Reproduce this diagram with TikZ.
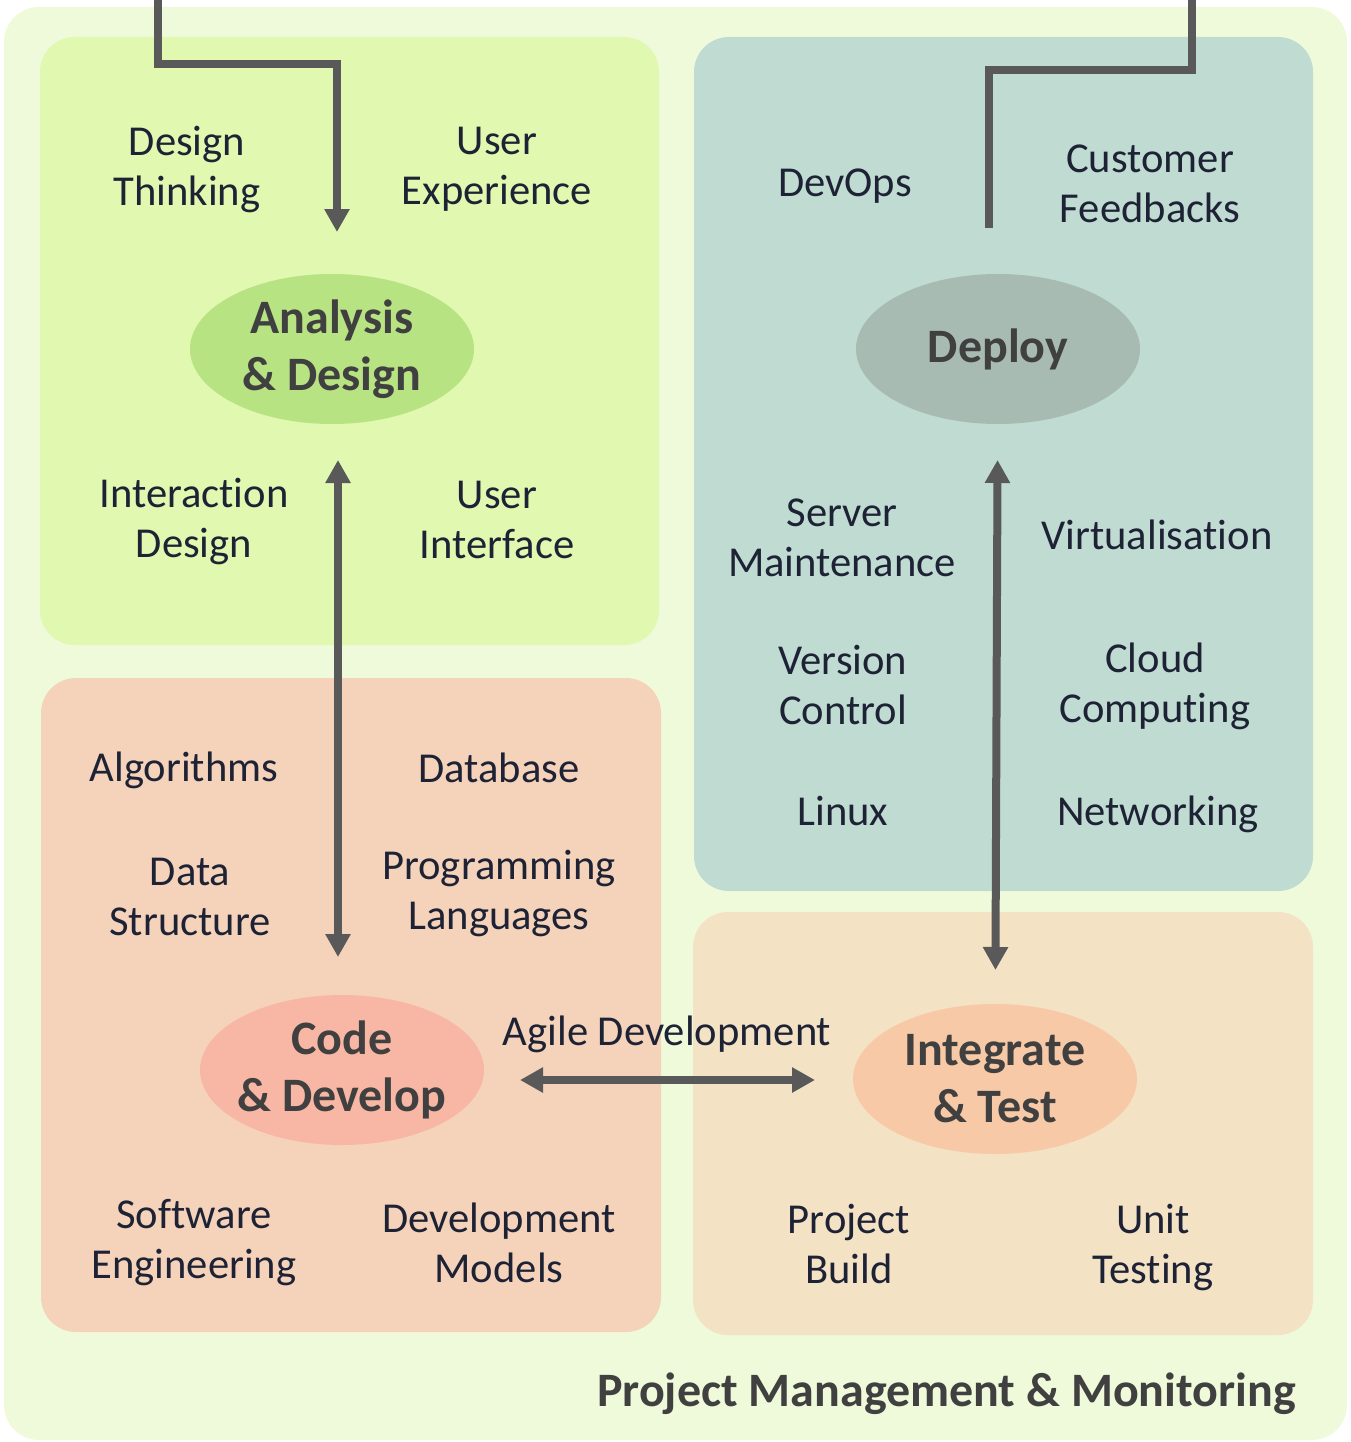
\documentclass[tikz,border=0pt]{standalone}
\usepackage{fontspec}
\setmainfont{Carlito}[Ligatures=NoCommon]
\usetikzlibrary{arrows.meta,calc,positioning,shapes.geometric}

\definecolor{outerGreen}{HTML}{EFFADA}
\definecolor{anaGreen}{HTML}{E0F8B0}
\definecolor{anaEll}{HTML}{B8E382}
\definecolor{depTeal}{HTML}{C0DBD2}
\definecolor{depEll}{HTML}{A7BBB3}
\definecolor{codeSalmon}{HTML}{F5D3BA}
\definecolor{codeEll}{HTML}{F8B6A4}
\definecolor{testPeach}{HTML}{F4E2C5}
\definecolor{testEll}{HTML}{F7C9A6}
\definecolor{flowGray}{HTML}{595959}
\definecolor{topicText}{HTML}{1E2235}
\definecolor{phaseText}{HTML}{404040}

\tikzset{
    area/.style = {
        rounded corners=35pt,
        inner sep=0pt,
        outer sep=0pt,
        },
    phase/.style = {
        ellipse,
        minimum width=284pt,
        minimum height=150pt,
        inner xsep=-12pt,
        inner ysep=0pt,
        outer sep=0pt,
        align=center,
        text=phaseText,
        font=\fontsize{48pt}{57pt}\selectfont\bfseries,
        },
    topic/.style = {
        align=center,
        inner sep=0pt,
        text=topicText,
        font=\fontsize{42.6pt}{50pt}\selectfont,
        },
    flow/.style = {
        draw=flowGray,
        line width=8pt,
        >={Triangle[width=24pt,length=23pt]},
        },
}

\begin{document}
\begin{tikzpicture}[x=1pt, y=-1pt]
    \useasboundingbox (0,0) rectangle (1351,1442);

    % background areas
    \node [area, fill=outerGreen, minimum width=1343pt, minimum height=1433pt] (bg) at (675.5,723.5) {};
    \node [area, fill=anaGreen, minimum width=619pt, minimum height=608pt] (anaBox) at (349.5,341) {};
    \node [area, fill=depTeal, minimum width=619pt, minimum height=854pt] (depBox) at (1003.5,464) {};
    \node [area, fill=codeSalmon, minimum width=620pt, minimum height=654pt] (codeBox) at (351,1005) {};
    \node [area, fill=testPeach, minimum width=620pt, minimum height=423pt] (testBox) at (1003,1123.5) {};

    % phases
    \node [phase, fill=anaEll] (ad) at (332,349) {Analysis\\\& Design};
    \node [phase, fill=depEll] (dp) at (998,349) {Deploy};
    \node [phase, fill=codeEll] (cd) at (342,1070) {Code\\\& Develop};
    \node [phase, fill=testEll] (it) at (995,1079) {Integrate\\\& Test};

    % topics
    \node [topic] (t1) at (187,170) {Design\\Thinking};
    \node [topic] (t2) at (497,169) {User\\Experience};
    \node [topic] (t3) at (194,522) {Interaction\\Design};
    \node [topic] (t4) at (497,520) {User\\Interface};

    \node [topic] (t5) at (845,186) {DevOps};
    \node [topic] (t6) at (1150,184) {Customer\\Feedbacks};
    \node [topic] (t7) at (842,538) {Server\\Maintenance};
    \node [topic] (t8) at (1157,535) {Virtualisation};
    \node [topic] (t9) at (843,685) {Version\\Control};
    \node [topic] (t10) at (1155,686) {Cloud\\Computing};
    \node [topic] (t11) at (843,811) {Linux};
    \node [topic] (t12) at (1158,814) {Networking};

    \node [topic] (t13) at (184,770) {Algorithms};
    \node [topic] (t14) at (499,768) {Database};
    \node [topic] (t15) at (190,897) {Data\\Structure};
    \node [topic] (t16) at (499,893) {Programming\\Languages};
    \node [topic] (t17) at (194,1243) {Software\\Engineering};
    \node [topic] (t18) at (499,1243) {Development\\Models};

    \node [topic] (t19) at (849,1244) {Project\\Build};
    \node [topic] (t20) at (1153,1247) {Unit\\Testing};

    \node [topic] (agile) at (667,1034) {Agile Development};
    \node [topic, anchor=east, text=phaseText, font=\fontsize{48pt}{57pt}\selectfont\bfseries] (pm) at (1296,1394) {Project Management \& Monitoring};

    % flows
    \coordinate (inA) at (158,-10);
    \coordinate (outD) at (1192,-10);
    \draw [flow, ->] (inA) -- ++(0,74) -| ($(ad.north)+(5,-42)$);
    \draw [flow] (outD) -- ++(0,80) -| ($(dp.north)+(-9,-46)$);
    \draw [flow, <->] ($(ad.south)+(6,36)$) -- ($(cd.north)+(-4,-38)$);
    \draw [flow, <->, shorten <=36pt, shorten >=34pt] (dp) -- (it);
    \draw [flow, <->] ($(cd.east)+(36,10)$) -- ($(it.west)+(-38,1)$);
\end{tikzpicture}
\end{document}
